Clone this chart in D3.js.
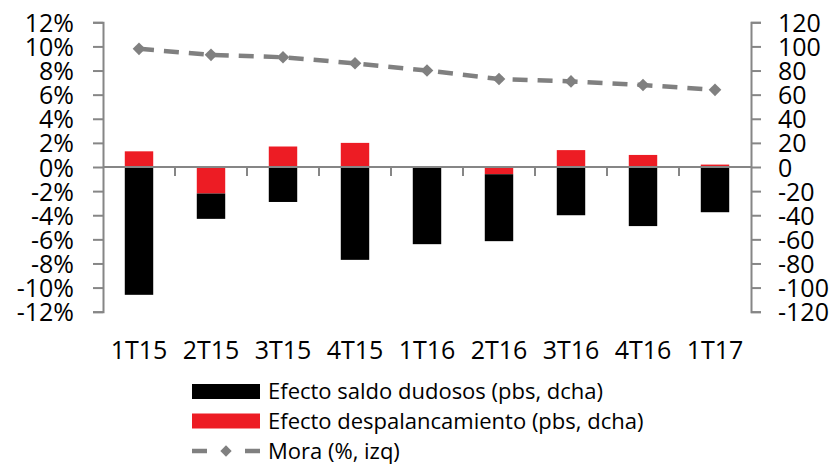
<!DOCTYPE html>
<html>
<head>
<meta charset="utf-8">
<script src="https://cdn.jsdelivr.net/npm/d3@7"></script>
<style>
  html, body { margin: 0; padding: 0; background: #fff; }
  svg { display: block; }
  text { font-family: "Open Sans", Calibri, sans-serif; fill: #000; }
</style>
</head>
<body>
<svg id="chart" width="835" height="464"></svg>
<script>
const categories = ["1T15","2T15","3T15","4T15","1T16","2T16","3T16","4T16","1T17"];
const efectoDudosos = [-106, -21, -29, -77, -64, -55.5, -40, -49, -37.5];
const efectoDespalancamiento = [13, -22, 17, 20, 0.5, -6, 14, 10, 2];
const mora = [9.8, 9.3, 9.1, 8.6, 8.0, 7.3, 7.1, 6.8, 6.4];
const leftTicks = [-12,-10,-8,-6,-4,-2,0,2,4,6,8,10,12];
const rightTicks = [-120,-100,-80,-60,-40,-20,0,20,40,60,80,100,120];
const legendLabels = ["Efecto saldo dudosos (pbs, dcha)", "Efecto despalancamiento (pbs, dcha)", "Mora (%, izq)"];

const svg = d3.select("#chart");
const L = 103, R = 751, T = 22.3, B = 311.7;
const axisColor = "#868686";
const lineColor = "#808080";
const red = "#ED1C24", black = "#000000";

const yL = d3.scaleLinear().domain([-12, 12]).range([B, T]);
const yR = d3.scaleLinear().domain([-120, 120]).range([B, T]);
const xBand = d3.scaleBand().domain(categories).range([L, R]).paddingInner(0.605).paddingOuter(0.3025);
const xCell = d3.scaleBand().domain(categories).range([L, R]).padding(0);

// stacked bars (diverging)
const rows = categories.map((c, i) => ({cat: c, desp: efectoDespalancamiento[i], dud: efectoDudosos[i]}));
const stack = d3.stack().keys(["desp", "dud"]).offset(d3.stackOffsetDiverging);
const series = stack(rows);
const colors = {desp: red, dud: black};
svg.append("g").selectAll("g").data(series).join("g")
  .attr("fill", d => colors[d.key])
  .selectAll("rect").data(d => d).join("rect")
  .attr("x", d => xBand(d.data.cat))
  .attr("width", xBand.bandwidth())
  .attr("y", d => yR(Math.max(d[0], d[1])))
  .attr("height", d => Math.abs(yR(d[0]) - yR(d[1])));

// zero line with category ticks
const y0 = yR(0);
const gx = svg.append("g");
gx.append("line").attr("x1", L).attr("x2", R).attr("y1", y0).attr("y2", y0)
  .attr("stroke", axisColor).attr("stroke-width", 2);
gx.selectAll("line.tk").data(categories.slice(1)).join("line").attr("class", "tk")
  .attr("x1", d => xCell(d)).attr("x2", d => xCell(d))
  .attr("y1", y0).attr("y2", y0 + 9)
  .attr("stroke", axisColor).attr("stroke-width", 2);

// x labels
svg.append("g").selectAll("text").data(categories).join("text")
  .attr("x", d => xCell(d) + xCell.bandwidth() / 2)
  .attr("y", 359)
  .attr("text-anchor", "middle")
  .attr("font-size", 25)
  .text(d => d);

// left axis
const gl = svg.append("g").attr("transform", `translate(${L},0)`)
  .call(d3.axisLeft(yL).tickValues(leftTicks).tickSize(10).tickPadding(19).tickFormat(d => d + "%"));
// right axis
const gr = svg.append("g").attr("transform", `translate(${R},0)`)
  .call(d3.axisRight(yR).tickValues(rightTicks).tickSize(10).tickPadding(17).tickFormat(d => d));
[gl, gr].forEach(g => {
  g.select(".domain").attr("stroke", axisColor).attr("stroke-width", 2);
  g.selectAll(".tick line").attr("stroke", axisColor).attr("stroke-width", 2);
  g.selectAll(".tick text").attr("font-size", 25).attr("font-family", "'Open Sans', sans-serif")
    .attr("fill", "#000").attr("dy", "0.36em");
});

// Mora line
const line = d3.line().x((d, i) => xCell(categories[i]) + xCell.bandwidth() / 2).y(d => yL(d));
svg.append("path").datum(mora).attr("d", line)
  .attr("fill", "none").attr("stroke", lineColor).attr("stroke-width", 4.5)
  .attr("stroke-dasharray", "15,10");
const diamond = d3.symbol().type(d3.symbolSquare).size(80);
svg.append("g").selectAll("path").data(mora).join("path")
  .attr("d", diamond)
  .attr("transform", (d, i) => `translate(${xCell(categories[i]) + xCell.bandwidth() / 2},${yL(d)}) rotate(45)`)
  .attr("fill", lineColor);

// legend
const lg = svg.append("g");
const rowsY = [391.5, 421, 451];
lg.append("rect").attr("x", 192).attr("y", rowsY[0] - 7.5).attr("width", 68).attr("height", 15).attr("fill", black);
lg.append("rect").attr("x", 192).attr("y", rowsY[1] - 7.5).attr("width", 68).attr("height", 15).attr("fill", red);
lg.append("line").attr("x1", 192).attr("x2", 260).attr("y1", rowsY[2]).attr("y2", rowsY[2])
  .attr("stroke", lineColor).attr("stroke-width", 4.5).attr("stroke-dasharray", "15,38");
lg.append("path").attr("d", d3.symbol().type(d3.symbolSquare).size(64))
  .attr("transform", `translate(226,${rowsY[2]}) rotate(45)`).attr("fill", lineColor);
const legTexts = lg.selectAll("text").data(legendLabels).join("text")
  .attr("x", 268).attr("y", (d, i) => rowsY[i] + 7.5)
  .attr("font-size", 20)
  .text(d => d);
// fit font size so first label width roughly matches reference (~352px)
const w0 = legTexts.node().getComputedTextLength();
const fs = Math.min(22, 20 * 352 / w0);
legTexts.attr("font-size", fs);
</script>
</body>
</html>
